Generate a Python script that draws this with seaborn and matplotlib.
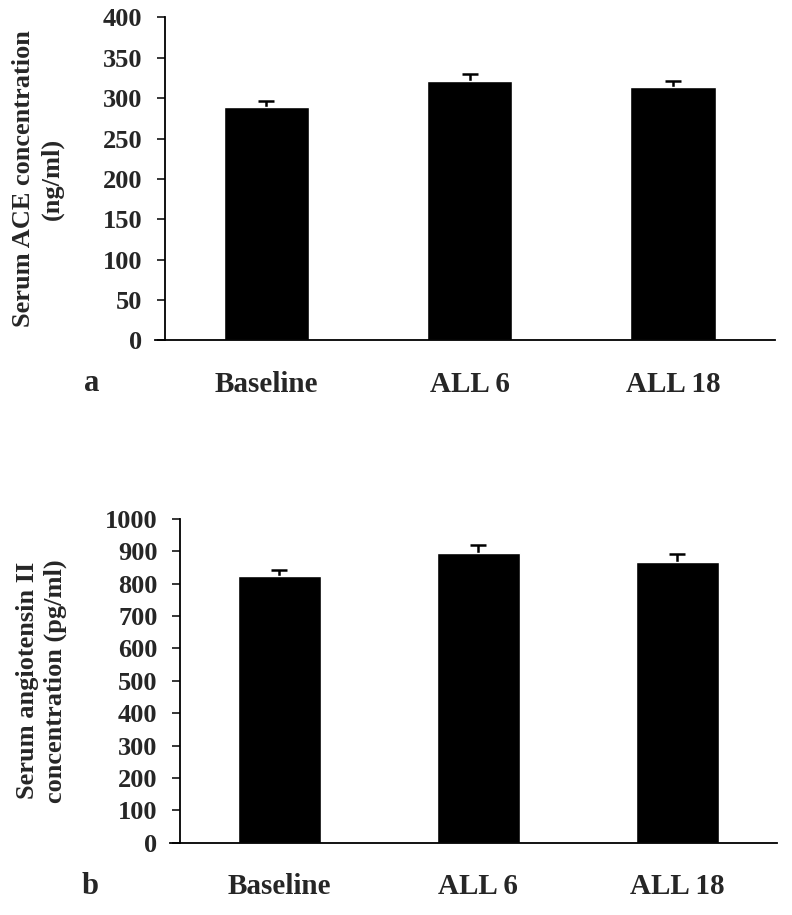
import matplotlib
matplotlib.use("Agg")
import matplotlib.pyplot as plt
import pandas as pd
import seaborn as sns

# values
groups = ["Baseline", "ALL 6", "ALL 18"]
ace_mean = [289, 321, 314]
ace_err = [7, 9, 7]
ang_mean = [824, 895, 867]
ang_err = [18, 24, 24]

ace_ticks = list(range(0, 401, 50))
ang_ticks = list(range(0, 1001, 100))

sns.set_style("ticks")
plt.rcParams["font.family"] = ["Liberation Serif", "DejaVu Serif"]
plt.rcParams["font.weight"] = "bold"


def draw_panel(ax, means, errs, yticks, ylabel, letter, label_x, labelpad):
    df = pd.DataFrame({"group": groups, "value": means})
    sns.barplot(data=df, x="group", y="value", color="black", width=0.42,
                errorbar=None, saturation=1, ax=ax, zorder=2)
    # symmetric bars drawn behind the columns so only the upper half shows
    ax.errorbar(range(len(groups)), means, yerr=errs,
                fmt="none", ecolor="black", elinewidth=1.8, capsize=6,
                capthick=1.8, zorder=1)
    ax.set_xlim(-0.5, 2.5)
    ax.set_ylim(yticks[0], yticks[-1])
    ax.set_yticks(yticks)
    ax.set_yticklabels([str(t) for t in yticks], fontsize=19, fontweight="bold")
    ax.set_xticks(range(len(groups)))
    ax.set_xticklabels(groups, fontsize=21, fontweight="bold")
    ax.tick_params(axis="x", length=0, pad=22)
    ax.tick_params(axis="y", length=6, width=1.3, pad=10, direction="out")
    ax.set_xlabel("")
    ax.set_ylabel(ylabel, fontsize=19, fontweight="bold", linespacing=1.3,
                  labelpad=labelpad)
    sns.despine(ax=ax)
    for side in ("left", "bottom"):
        ax.spines[side].set_linewidth(1.3)
        ax.spines[side].set_color("black")
    ax.spines["bottom"].set_bounds(-0.55, 2.5)
    ax.text(label_x, -0.135, letter, transform=ax.transAxes, fontsize=22,
            fontweight="bold", ha="center", va="center")


fig = plt.figure(figsize=(7.92, 9.15), dpi=100)
ax1 = fig.add_axes([0.208, 0.628, 0.770, 0.353])
ax2 = fig.add_axes([0.227, 0.079, 0.754, 0.354])

draw_panel(ax1, ace_mean, ace_err, ace_ticks,
           "Serum ACE concentration\n(ng/ml)", "a", -0.12, 28)
draw_panel(ax2, ang_mean, ang_err, ang_ticks,
           "Serum angiotensin II\nconcentration (pg/ml)", "b", -0.15, 27)

fig.savefig("out.png", dpi=100, facecolor="white")
